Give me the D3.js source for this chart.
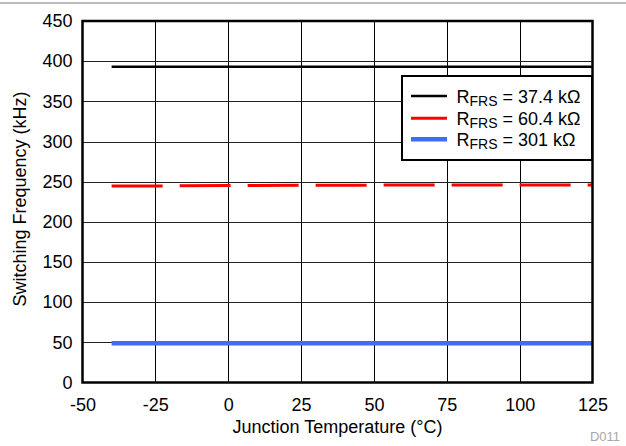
<!DOCTYPE html>
<html><head><meta charset="utf-8">
<script src="https://cdn.jsdelivr.net/npm/d3@7"></script>
<style>body{margin:0;background:#fff;} svg{display:block;font-family:"Liberation Sans",Arial,sans-serif;}</style>
</head><body>
<svg id="c" width="626" height="446"></svg>
<script>
const xTicks = [-50, -25, 0, 25, 50, 75, 100, 125];
const yTicks = [0, 50, 100, 150, 200, 250, 300, 350, 400, 450];
const temps = [-40, -25, 0, 25, 50, 75, 100, 125];
const freq374 = [393, 393, 393, 393, 393, 393, 393, 393];
const freq604 = [244.5, 244.7, 245.2, 245.5, 245.7, 245.8, 245.9, 246];
const freq301 = [49, 49, 49, 49, 49, 49, 49, 49];
const seriesNames = ["37.4 kΩ", "60.4 kΩ", "301 kΩ"];
const seriesColors = ["#000000", "#ff0000", "#3f6ff0"];
const seriesWidths = [2.5, 3, 4.5];
const seriesDash = [null, "51,17", null];

const svg = d3.select("#c");
const L = 82.5, R = 592.5, T = 21, B = 382.5;
const x = d3.scaleLinear().domain([-50, 125]).range([L, R]);
const y = d3.scaleLinear().domain([0, 450]).range([B, T]);

// top rule
svg.append("line").attr("x1", 0).attr("x2", 626).attr("y1", 3).attr("y2", 3)
  .attr("stroke", "#777").attr("stroke-width", 1);

// grid
const g = svg.append("g");
g.selectAll(".vg").data(xTicks.slice(1, -1)).enter().append("line")
  .attr("x1", d => Math.round(x(d)) + 0.5).attr("x2", d => Math.round(x(d)) + 0.5)
  .attr("y1", T).attr("y2", B).attr("stroke", "#000").attr("stroke-width", 1);
g.selectAll(".hg").data(yTicks.slice(1, -1)).enter().append("line")
  .attr("y1", d => Math.round(y(d)) + 0.5).attr("y2", d => Math.round(y(d)) + 0.5)
  .attr("x1", L).attr("x2", R).attr("stroke", "#222").attr("stroke-width", 1);

// series
const allSeries = [freq374, freq604, freq301];
const line = d3.line().x(d => x(d[0])).y(d => y(d[1]));
allSeries.forEach((s, i) => {
  const pts = temps.map((t, j) => [t, s[j]]);
  const p = svg.append("path").attr("d", line(pts)).attr("fill", "none")
    .attr("stroke", seriesColors[i]).attr("stroke-width", seriesWidths[i]);
  if (seriesDash[i]) p.attr("stroke-dasharray", seriesDash[i]);
});

// frame
svg.append("rect").attr("x", L).attr("y", T).attr("width", R - L).attr("height", B - T)
  .attr("fill", "none").attr("stroke", "#000").attr("stroke-width", 2.5);

// axes
const xAxis = svg.append("g").attr("transform", `translate(0,${B})`)
  .call(d3.axisBottom(x).tickValues(xTicks).tickSize(0).tickPadding(16).tickFormat(d => String(d)));
xAxis.select(".domain").remove();
xAxis.selectAll("text").attr("font-size", 18).attr("fill", "#000").attr("font-family", "Liberation Sans, Arial, sans-serif");
const yAxis = svg.append("g").attr("transform", `translate(${L},0)`)
  .call(d3.axisLeft(y).tickValues(yTicks).tickSize(0).tickPadding(10).tickFormat(d => String(d)));
yAxis.select(".domain").remove();
yAxis.selectAll("text").attr("font-size", 18).attr("fill", "#000").attr("font-family", "Liberation Sans, Arial, sans-serif");

// axis titles
svg.append("text").attr("x", (L + R) / 2).attr("y", 432.5).attr("text-anchor", "middle")
  .attr("font-size", 18).text("Junction Temperature (°C)");
svg.append("text").attr("transform", `translate(25.5,199) rotate(-90)`)
  .attr("text-anchor", "middle").attr("font-size", 18).text("Switching Frequency (kHz)");
svg.append("text").attr("x", 620).attr("y", 441).attr("text-anchor", "end")
  .attr("font-size", 13).attr("fill", "#a8a8a8").text("D011");

// legend
const lg = svg.append("g");
lg.append("rect").attr("x", 402).attr("y", 76).attr("width", 190).attr("height", 84)
  .attr("fill", "#fff").attr("stroke", "#000").attr("stroke-width", 2);
const rowsY = [96, 118.3, 139.3];
seriesNames.forEach((n, i) => {
  lg.append("line").attr("x1", 411).attr("x2", 447).attr("y1", rowsY[i]).attr("y2", rowsY[i])
    .attr("stroke", seriesColors[i]).attr("stroke-width", seriesWidths[i]);
  const t = lg.append("text").attr("x", 456.5).attr("y", rowsY[i] + 7).attr("font-size", 18);
  t.append("tspan").text("R");
  t.append("tspan").attr("font-size", 14).attr("dy", 2.5).text("FRS");
  t.append("tspan").attr("dy", -2.5).text(" = " + n);
});
</script>
</body></html>
